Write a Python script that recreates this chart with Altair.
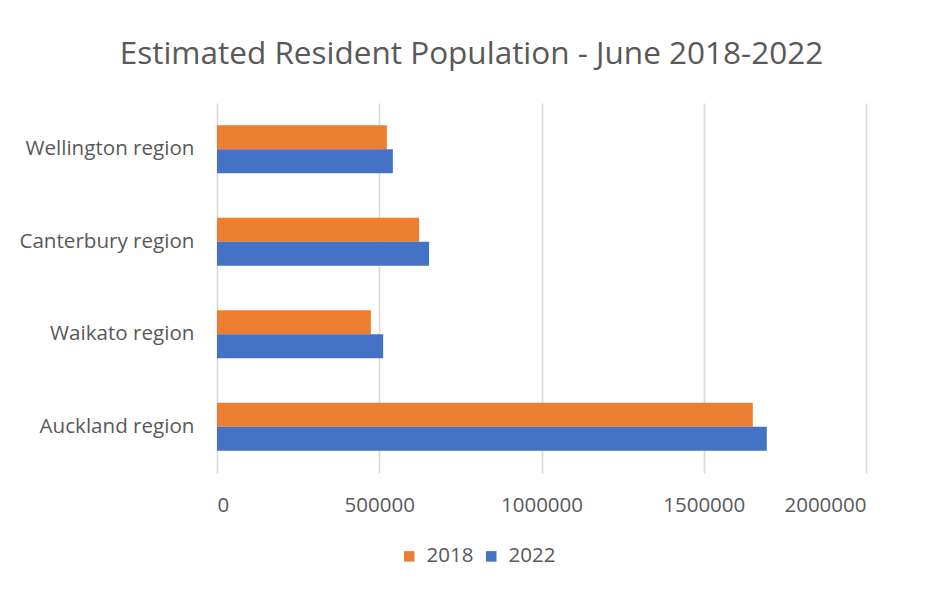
import altair as alt
import pandas as pd

regions = ["Wellington region", "Canterbury region", "Waikato region", "Auckland region"]
pop_2018 = [523400, 622800, 474100, 1651200]
pop_2022 = [541900, 653600, 512000, 1694300]
years = ["2018", "2022"]
colors = ["#ED7D31", "#4472C4"]
x_ticks = [0, 500000, 1000000, 1500000, 2000000]

rows = []
for r, a, b in zip(regions, pop_2018, pop_2022):
    rows.append({"region": r, "year": "2018", "value": a})
    rows.append({"region": r, "year": "2022", "value": b})
df = pd.DataFrame(rows)

FONT = "Open Sans"
TXT = "#595959"

chart = alt.Chart(df).mark_bar().encode(
    y=alt.Y("region:N", sort=regions, title=None,
            scale=alt.Scale(paddingInner=0.48, paddingOuter=0.24),
            axis=alt.Axis(labelFont=FONT, labelFontSize=20.6, labelColor=TXT,
                          labelPadding=23, ticks=False, domain=False, grid=False)),
    yOffset=alt.YOffset("year:N", sort=years, scale=alt.Scale(paddingInner=0, paddingOuter=0)),
    x=alt.X("value:Q", title=None,
            scale=alt.Scale(domain=[0, 2000000], nice=False),
            axis=alt.Axis(values=x_ticks, format="d", labelFont=FONT, labelFontSize=20.5,
                          labelColor=TXT, labelPadding=22, ticks=False, domain=False,
                          grid=True, gridColor="#d9d9d9", gridWidth=1.6)),
    color=alt.Color("year:N", sort=years, scale=alt.Scale(domain=years, range=colors),
                    legend=alt.Legend(title=None, orient="none", direction="horizontal",
                                      legendX=182, legendY=443,
                                      symbolType="square", symbolSize=110,
                                      symbolStrokeWidth=0, symbolOpacity=1,
                                      labelFont=FONT, labelFontSize=20.5, labelColor=TXT,
                                      columnPadding=7, labelOffset=7)),
).properties(
    width=649,
    height=370,
    background="white",
    title=alt.TitleParams("Estimated Resident Population - June 2018-2022",
                          font=FONT, fontSize=31.5, fontWeight="normal", color=TXT,
                          anchor="middle", frame="bounds", offset=33, dx=29),
    padding={"left": 10, "top": 30, "right": 5, "bottom": 5},
).configure_view(strokeWidth=0, stroke="transparent")

chart.save("out.html", embed_options={"renderer": "svg", "actions": False})
